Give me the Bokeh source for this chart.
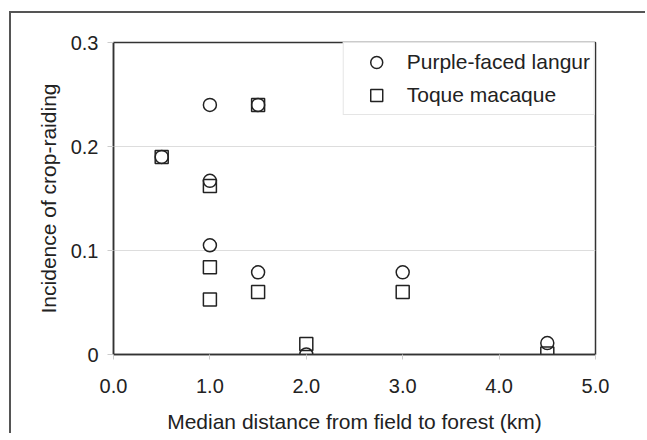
from bokeh.plotting import figure
from bokeh.embed import file_html
from bokeh.resources import INLINE
from bokeh.models import Range1d, FixedTicker, NumeralTickFormatter, Legend, LegendItem

# Data
langur_x = [0.5, 1.0, 1.0, 1.0, 1.5, 1.5, 2.0, 3.0, 4.5]
langur_y = [0.19, 0.24, 0.167, 0.105, 0.24, 0.079, 0.0, 0.079, 0.011]
macaque_x = [0.5, 1.0, 1.0, 1.0, 1.5, 1.5, 2.0, 3.0, 4.5]
macaque_y = [0.19, 0.162, 0.084, 0.053, 0.24, 0.06, 0.01, 0.06, 0.001]
x_ticks = [0, 1, 2, 3, 4, 5]
y_ticks = [0, 0.1, 0.2, 0.3]

FONT = "Liberation Sans"
TXT = "#222222"

p = figure(width=636, height=422, output_backend="svg", toolbar_location=None,
           x_range=Range1d(0, 5), y_range=Range1d(0, 0.3),
           min_border_left=102, min_border_right=52, min_border_top=29, min_border_bottom=81,
           x_axis_label="Median distance from field to forest (km)",
           y_axis_label="Incidence of crop-raiding")
p.styles = {"border-left": "2px solid #555555", "border-top": "2px solid #555555",
            "margin-left": "9px", "margin-top": "11px"}

p.outline_line_color = "#333333"
p.outline_line_width = 1.5

p.xaxis.ticker = FixedTicker(ticks=x_ticks)
p.yaxis.ticker = FixedTicker(ticks=y_ticks)
p.xaxis.formatter = NumeralTickFormatter(format="0.0")
p.yaxis.formatter = NumeralTickFormatter(format="0.[0]")

for ax in (p.xaxis, p.yaxis):
    ax.axis_line_color = "#333333"
    ax.axis_line_width = 1.5
    ax.major_tick_line_color = "#cccccc"
    ax.major_tick_in = 0
    ax.minor_tick_line_color = None
    ax.major_label_text_font = FONT
    ax.major_label_text_font_size = "20px"
    ax.major_label_text_color = TXT
    ax.axis_label_text_font = FONT
    ax.axis_label_text_font_size = "21px"
    ax.axis_label_text_font_style = "normal"
    ax.axis_label_text_color = TXT

p.xaxis.major_tick_out = 5
p.yaxis.major_tick_out = 6
p.xaxis.major_label_standoff = 19
p.yaxis.major_label_standoff = 9
p.xaxis.axis_label_standoff = 14
p.yaxis.axis_label_standoff = 8

p.xgrid.grid_line_color = None
p.ygrid.grid_line_color = "#dddddd"
p.ygrid.grid_line_width = 1

r1 = p.scatter(langur_x, langur_y, marker="circle", size=13, fill_color=None,
               line_color="#222222", line_width=1.5)
r2 = p.scatter(macaque_x, macaque_y, marker="square", size=13, fill_color=None,
               line_color="#222222", line_width=1.5)

legend = Legend(items=[LegendItem(label="Purple-faced langur", renderers=[r1]),
                       LegendItem(label="Toque macaque", renderers=[r2])],
                location="top_right", margin=0, padding=4, spacing=3,
                glyph_width=57, glyph_height=30, label_height=30, label_standoff=2,
                label_text_font=FONT, label_text_font_size="21px", label_text_color=TXT,
                border_line_color="#cccccc", border_line_width=1,
                background_fill_color="white", background_fill_alpha=1.0)
p.add_layout(legend)

open("out.html", "w").write(file_html(p, INLINE))
